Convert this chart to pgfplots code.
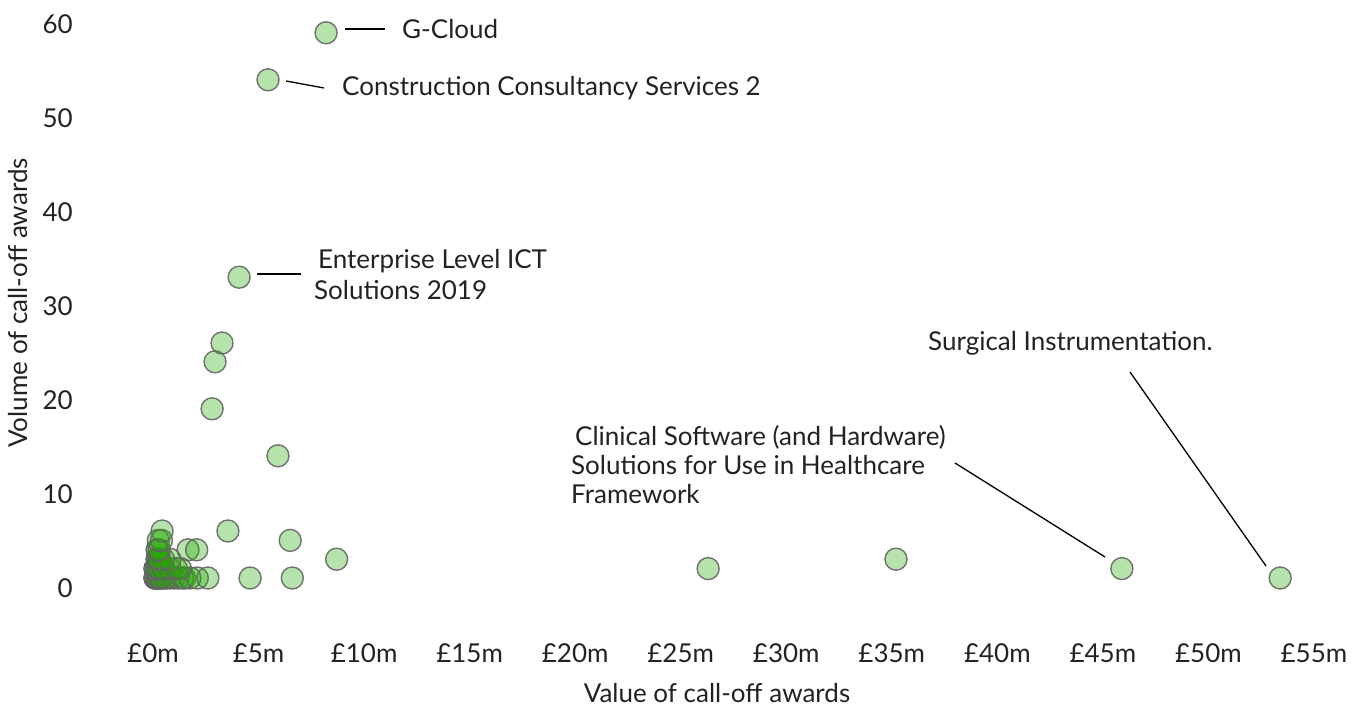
\documentclass[border=0pt]{standalone}
\usepackage{pgfplots}
\pgfplotsset{compat=1.18}
\usepackage{fontspec}
\setmainfont{Lato}
\definecolor{ptfill}{RGB}{34,170,0}
\definecolor{ptedge}{RGB}{100,100,100}
\definecolor{txt}{RGB}{34,34,34}
\newcommand{\fs}{\fontsize{26bp}{31bp}\selectfont}
\begin{document}
\begin{tikzpicture}[x=1bp,y=1bp,font=\fs,text=txt]
\useasboundingbox (0,0) rectangle (1358,708);
\begin{axis}[
  at={(153bp,120.6bp)}, anchor=south west,
  scale only axis, width=1161bp, height=564bp,
  xmin=0, xmax=55, ymin=0, ymax=60,
  clip=false,
  axis line style={draw=none},
  major tick length=0pt,
  /pgf/number format/assume math mode=true,
  xtick={0,5,...,55},
  xticklabels={£0m,£5m,£10m,£15m,£20m,£25m,£30m,£35m,£40m,£45m,£50m,£55m},
  ytick={0,10,...,60},
  yticklabels={0,10,20,30,40,50,60},
  xticklabel style={anchor=center, inner sep=0pt, yshift=-66bp, font=\fs, text=txt},
  yticklabel style={anchor=east, inner sep=0pt, xshift=-80bp, yshift=-1bp, font=\fs, text=txt},
]
\addplot[only marks, mark=*, mark size=11bp,
  mark options={fill=ptfill, fill opacity=0.33, draw=ptedge, draw opacity=0.9, line width=1.4bp}]
  table[row sep=\\] {
  x y\\
  0.1 1\\ 0.1 1\\ 0.1 1\\ 0.1 1\\ 0.2 1\\ 0.2 1\\ 0.2 1\\ 0.2 1\\ 0.3 1\\ 0.3 1\\ 0.3 1\\ 0.4 1\\ 0.4 1\\ 0.6 1\\ 0.6 1\\ 0.8 1\\ 1.0 1\\ 1.2 1\\ 1.4 1\\ 1.5 1\\ 1.75 1\\ 2.1 1\\ 2.6 1\\ 4.6 1\\ 6.6 1\\ 53.4 1\\
  0.1 2\\ 0.1 2\\ 0.1 2\\ 0.2 2\\ 0.2 2\\ 0.2 2\\ 0.3 2\\ 0.3 2\\ 0.5 2\\ 0.5 2\\ 0.8 2\\ 1.1 2\\ 1.3 2\\ 26.3 2\\ 45.9 2\\
  0.2 3\\ 0.2 3\\ 0.2 3\\ 0.3 3\\ 0.3 3\\ 0.5 3\\ 0.8 3\\ 8.7 3\\ 35.2 3\\
  0.2 4\\ 0.2 4\\ 0.3 4\\ 1.66 4\\ 2.07 4\\
  0.25 5\\ 0.4 5\\ 6.5 5\\
  0.43 6\\ 3.55 6\\
  5.92 14\\ 2.8 19\\ 2.94 24\\ 3.27 26\\ 4.08 33\\ 5.45 54\\ 8.2 59\\
  };
\end{axis}
% axis titles
\node[rotate=90] at (18,405) {Volume of call-off awards};
\node at (717,15) {Value of call-off awards};
% annotations
\draw[line width=1.3bp, black] (345,679) -- (385,679);
\node[anchor=west, inner sep=0pt] at (402,679) {G-Cloud};
\draw[line width=1.3bp, black] (286,627) -- (324,620);
\node[anchor=west, inner sep=0pt] at (342,620) {Construction Consultancy Services 2};
\draw[line width=1.3bp, black] (257,434) -- (301,434);
\node[anchor=west, inner sep=0pt] at (318,447) {Enterprise Level ICT};
\node[anchor=west, inner sep=0pt] at (314,418) {Solutions 2019};
\node[anchor=west, inner sep=0pt] at (575,271) {Clinical Software (and Hardware)};
\node[anchor=west, inner sep=0pt] at (571,243) {Solutions for Use in Healthcare};
\node[anchor=west, inner sep=0pt] at (571,214) {Framework};
\draw[line width=1.3bp, black] (955,245) -- (1105,151);
\node[anchor=west, inner sep=0pt] at (928,365) {Surgical Instrumentation.};
\draw[line width=1.3bp, black] (1130,336) -- (1266,142);
\end{tikzpicture}
\end{document}
